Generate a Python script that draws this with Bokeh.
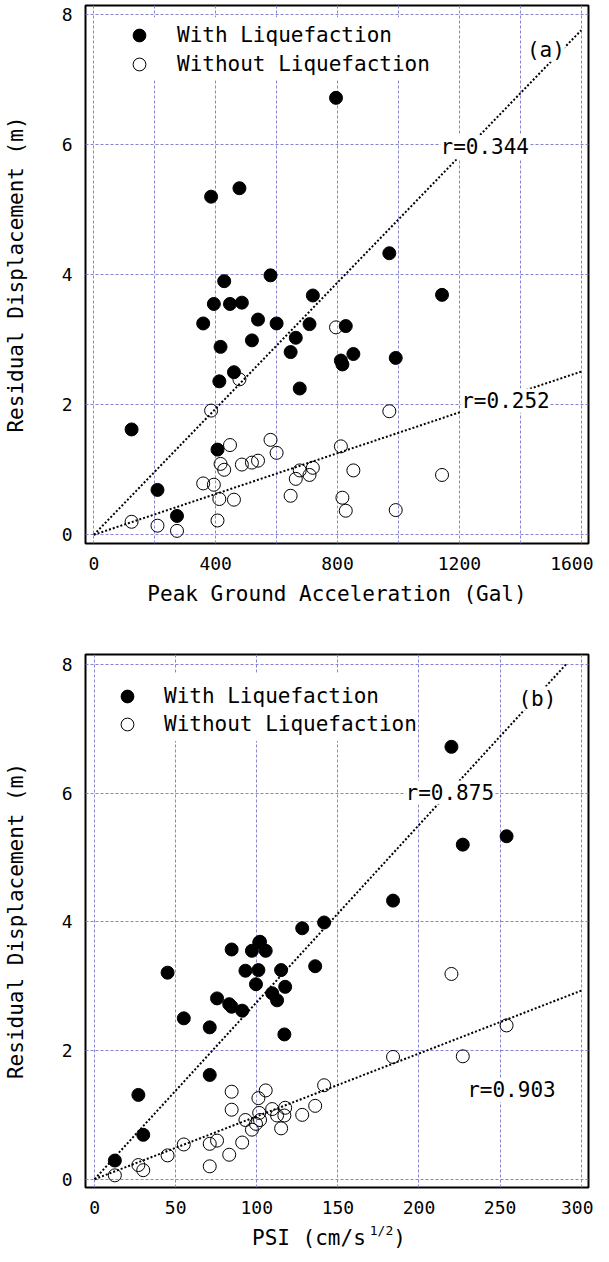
from bokeh.plotting import figure
from bokeh.layouts import column
from bokeh.models import (FixedTicker, Label, Legend, LegendItem, Range1d,
                          BoxAnnotation, Div)
from bokeh.embed import file_html
from bokeh.resources import INLINE

# ---- data (31 sites) ----
pga = [795, 385, 478, 970, 580, 428, 719, 1143, 394, 447, 486, 359, 539, 600, 708, 827,
       519, 663, 416, 646, 852, 811, 816, 991, 460, 412, 676, 124, 406, 209, 273]
psi = [220, 227, 254, 184, 141.5, 128, 101.5, 102, 97, 105.5, 84.5, 115, 136, 101, 93, 45,
       117.5, 99.5, 109.5, 75.5, 112.5, 84.5, 91, 83, 55, 71, 117, 71, 27, 30, 12.5]
disp_with = [6.72, 5.20, 5.33, 4.33, 3.99, 3.90, 3.68, 3.69, 3.55, 3.55, 3.57, 3.25, 3.31, 3.25,
             3.24, 3.21, 2.99, 3.03, 2.89, 2.81, 2.78, 2.68, 2.62, 2.72, 2.50, 2.36, 2.25,
             1.62, 1.31, 0.69, 0.29]
disp_without = [3.19, 1.91, 2.39, 1.90, 1.46, 1.00, 1.03, 0.92, 0.77, 1.38, 1.08, 0.79, 1.14,
                1.26, 0.92, 0.37, 1.11, 0.86, 1.09, 0.60, 0.99, 1.36, 0.57, 0.38, 0.54, 0.55,
                0.99, 0.20, 0.22, 0.14, 0.06]

# regression lines (end points)
fit_pga_x = [0, 1600]
fit_pga_with = [0, 7.76]
fit_pga_without = [0, 2.51]
fit_psi_with_x = [0, 290.6]
fit_psi_with = [0, 8.0]
fit_psi_without_x = [0, 300]
fit_psi_without = [0, 2.93]

pga_ticks = [0, 400, 800, 1200, 1600]
pga_grid = [0, 200, 400, 600, 800, 1000, 1200, 1400, 1600]
psi_ticks = [0, 50, 100, 150, 200, 250, 300]
disp_ticks = [0, 2, 4, 6, 8]

FONT = "DejaVu Sans Mono"
GRID = "#8585d0"
TXT = "21px"
TICK = "18px"


def make_fig(height, btop, bbottom, xr, yr, xticks, xgrid):
    p = figure(width=593, height=height, x_range=Range1d(*xr), y_range=Range1d(*yr),
               output_backend="svg", toolbar_location=None,
               min_border_left=74, min_border_right=5,
               min_border_top=btop, min_border_bottom=bbottom)
    p.background_fill_color = "white"
    p.border_fill_color = "white"
    p.outline_line_color = "black"
    p.outline_line_width = 2
    p.xaxis.ticker = FixedTicker(ticks=xticks)
    p.yaxis.ticker = FixedTicker(ticks=disp_ticks)
    p.xgrid.ticker = FixedTicker(ticks=xgrid)
    p.ygrid.ticker = FixedTicker(ticks=disp_ticks)
    for g in (p.xgrid, p.ygrid):
        g.grid_line_color = GRID
        g.grid_line_dash = "3 2"
        g.grid_line_width = 1
    for ax in (p.xaxis, p.yaxis):
        ax.axis_line_color = None
        ax.major_tick_line_color = None
        ax.minor_tick_line_color = None
        ax.major_label_text_font = FONT
        ax.major_label_text_font_size = TICK
        ax.major_label_text_color = "black"
        ax.axis_label_text_font = FONT
        ax.axis_label_text_font_size = TXT
        ax.axis_label_text_font_style = "normal"
        ax.axis_label_text_color = "black"
    p.xaxis.major_label_standoff = 7
    p.yaxis.major_label_standoff = 7
    p.yaxis.axis_label = "Residual Displacement (m)"
    p.yaxis.axis_label_standoff = 31
    return p


def add_points(p, x, loc_with, loc_without, standoff, box):
    # white area behind the legend (hides the grid there)
    p.add_layout(BoxAnnotation(left=box[0], right=box[1], top=box[2], bottom=box[3],
                               fill_color="white", fill_alpha=1.0, line_color=None,
                               level="underlay"))
    r_without = p.scatter(x, disp_without, size=13, marker="circle",
                          fill_color=None, line_color="black", line_width=1)
    r_with = p.scatter(x, disp_with, size=13, marker="circle",
                       fill_color="black", line_color="black")
    for lab, r, loc in (("With Liquefaction", r_with, loc_with),
                        ("Without Liquefaction", r_without, loc_without)):
        leg = Legend(items=[LegendItem(label=lab, renderers=[r])],
                     location=loc, padding=0, margin=0, spacing=0, glyph_height=36,
                     glyph_width=32, label_height=36, label_standoff=standoff,
                     border_line_color=None, background_fill_alpha=0.0,
                     label_text_font=FONT, label_text_font_size=TXT,
                     label_text_color="black")
        p.add_layout(leg)


def add_label(p, x, y, text, align="left"):
    p.add_layout(Label(x=x, y=y, text=text, text_align=align, text_baseline="middle",
                       text_font=FONT, text_font_size=TXT, text_color="black",
                       background_fill_color="white"))


# ---- (a) PGA ----
p1 = make_fig(622, 5, 79, (-27.3, 1623.8), (-0.134, 8.14), pga_ticks, pga_grid)
p1.xaxis.axis_label = "Peak Ground Acceleration (Gal)"
p1.xaxis.axis_label_standoff = 9
add_points(p1, pga, (38, 490), (38, 461), 22, (111, 1100, 7.96, 6.99))
p1.line(fit_pga_x, fit_pga_with, line_color="black", line_width=2, line_dash="2 2")
p1.line(fit_pga_x, fit_pga_without, line_color="black", line_width=2, line_dash="2 2")
add_label(p1, 1138, 5.96, "r=0.344")
add_label(p1, 1206, 2.06, "r=0.252")
add_label(p1, 1484, 7.46, "(a)", "center")

# ---- (b) PSI ----
p2 = make_fig(594, 32, 29, (-5.6, 304.5), (-0.129, 8.155), psi_ticks, psi_ticks)
p2.xaxis.axis_label = None
add_points(p2, psi, (26, 473), (26, 445), 21, (13.1, 198.9, 7.87, 6.81))
p2.line(fit_psi_with_x, fit_psi_with, line_color="black", line_width=2, line_dash="2 2")
p2.line(fit_psi_without_x, fit_psi_without, line_color="black", line_width=2, line_dash="2 2")
add_label(p2, 191.7, 6.01, "r=0.875")
add_label(p2, 229.7, 1.386, "r=0.903")
add_label(p2, 273, 7.47, "(b)", "center")

# x-axis title of (b) with a superscript exponent
xtitle = Div(
    text=('<div style="font-family:' + FONT + ';font-size:' + TXT +
          ';line-height:30px;position:relative;top:7px;padding-left:252px;'
          'white-space:nowrap;color:black;">'
          'PSI (cm/s<span style="font-size:13px;position:relative;top:-10px;'
          'margin-left:4px;">1/2</span>)</div>'),
    width=593, height=30, margin=0)

layout = column(p1, p2, xtitle, spacing=0)
open("out.html", "w").write(file_html(layout, INLINE))
